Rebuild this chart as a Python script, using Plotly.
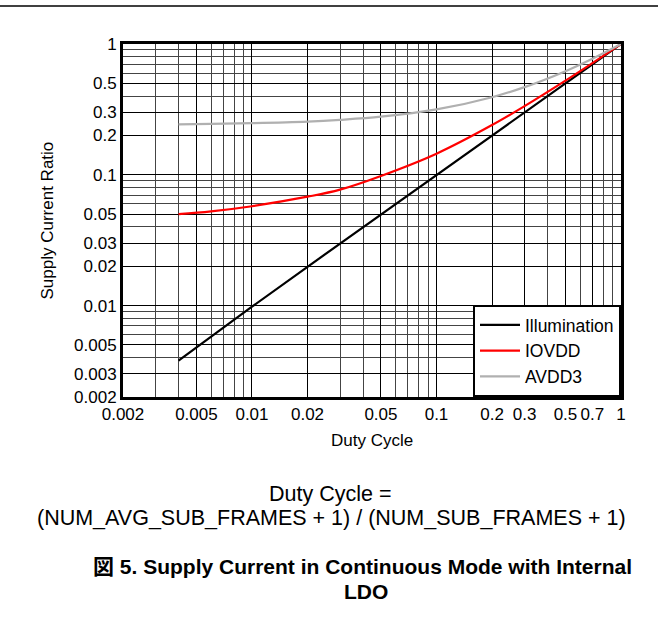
import plotly.graph_objects as go

# Data
duty = [0.004, 0.006, 0.01, 0.02, 0.03, 0.05, 0.1, 0.2, 0.3, 0.5, 0.7, 1.0]
illumination = [0.0038, 0.0058, 0.0098, 0.0198, 0.0298, 0.0498, 0.1, 0.2, 0.3, 0.5, 0.7, 1.0]
iovdd = [0.050, 0.0525, 0.0575, 0.068, 0.077, 0.098, 0.145, 0.24, 0.335, 0.525, 0.715, 1.0]
avdd3 = [0.243, 0.245, 0.248, 0.255, 0.263, 0.278, 0.316, 0.392, 0.468, 0.62, 0.772, 1.0]

x_ticks = [0.002, 0.005, 0.01, 0.02, 0.05, 0.1, 0.2, 0.3, 0.5, 0.7, 1]
x_tick_text = ["0.002", "0.005", "0.01", "0.02", "0.05", "0.1", "0.2", "0.3", "0.5", "0.7", "1"]
y_ticks = [0.002, 0.003, 0.005, 0.01, 0.02, 0.03, 0.05, 0.1, 0.2, 0.3, 0.5, 1]
y_tick_text = ["0.002", "0.003", "0.005", "0.01", "0.02", "0.03", "0.05", "0.1", "0.2", "0.3", "0.5", "1"]

FONT = "Liberation Sans, Arial, sans-serif"

fig = go.Figure()
fig.add_trace(go.Scatter(x=duty, y=illumination, mode="lines", name="Illumination",
                         line=dict(color="black", width=2.2)))
fig.add_trace(go.Scatter(x=duty, y=iovdd, mode="lines", name="IOVDD",
                         line=dict(color="#ff0000", width=2.2, shape="spline")))
fig.add_trace(go.Scatter(x=duty, y=avdd3, mode="lines", name="AVDD3",
                         line=dict(color="#b0b0b0", width=2.2, shape="spline")))

axis_common = dict(
    type="log",
    showline=True, linecolor="black", linewidth=3, mirror=True,
    showgrid=True, gridcolor="#000000", gridwidth=1,
    ticks="", zeroline=False,
    tickfont=dict(family=FONT, size=17, color="black"),
    minor=dict(dtick="D1", showgrid=True, gridcolor="#444444", gridwidth=1, ticks=""),
)

fig.update_xaxes(range=[-2.69897, 0], tickvals=x_ticks, ticktext=x_tick_text, **axis_common)
fig.update_yaxes(range=[-2.69897, 0], tickvals=y_ticks, ticktext=y_tick_text, **axis_common)

fig.update_layout(
    width=658, height=617,
    margin=dict(l=123, r=37, t=44, b=220, autoexpand=False),
    paper_bgcolor="white", plot_bgcolor="white",
    font=dict(family=FONT, size=17, color="black"),
    showlegend=True,
    legend=dict(x=1, xanchor="right", y=0, yanchor="bottom",
                bgcolor="white", bordercolor="black", borderwidth=2,
                font=dict(family=FONT, size=17.5, color="black"),
                itemwidth=40, tracegroupgap=0),
    annotations=[
        dict(text="Duty Cycle", x=0.5, y=-0.1246, xref="paper", yref="paper",
             showarrow=False, font=dict(family=FONT, size=17), xanchor="center", yanchor="middle"),
        dict(text="Supply Current Ratio", x=-0.1526, y=0.5, xref="paper", yref="paper",
             showarrow=False, textangle=-90, font=dict(family=FONT, size=17),
             xanchor="center", yanchor="middle"),
        dict(text="Duty Cycle =", x=0.4157, y=-0.2748, xref="paper", yref="paper",
             showarrow=False, font=dict(family=FONT, size=21.5), xanchor="center", yanchor="middle"),
        dict(text="(NUM_AVG_SUB_FRAMES + 1) / (NUM_SUB_FRAMES + 1)", x=0.4177, y=-0.3428,
             xref="paper", yref="paper", showarrow=False, font=dict(family=FONT, size=21.5),
             xanchor="center", yanchor="middle"),
        dict(text="<b>図 5. Supply Current in Continuous Mode with Internal</b>", x=0.48, y=-0.4788,
             xref="paper", yref="paper", showarrow=False,
             font=dict(family="Liberation Sans, Arial, Noto Sans CJK JP, sans-serif", size=21),
             xanchor="center", yanchor="middle"),
        dict(text="<b>LDO</b>", x=0.488, y=-0.5496, xref="paper", yref="paper", showarrow=False,
             font=dict(family=FONT, size=21), xanchor="center", yanchor="middle"),
    ],
    shapes=[
        dict(type="line", xref="paper", yref="paper", x0=-0.3, x1=1.1, y0=1.1076, y1=1.1076,
             line=dict(color="black", width=1.5)),
    ],
)

fig.write_html("out.html", config={"displayModeBar": False},
               post_script="document.body.style.margin='0';document.body.style.overflow='hidden';")
